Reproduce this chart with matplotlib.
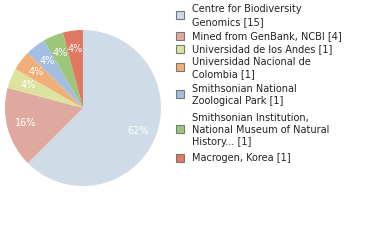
import matplotlib.pyplot as plt
from matplotlib.patches import Rectangle

labels = ['Centre for Biodiversity\nGenomics', 'Mined from GenBank, NCBI', 'Universidad de los Andes',
          'Universidad Nacional de\nColombia', 'Smithsonian National\nZoological Park',
          'Smithsonian Institution,\nNational Museum of Natural\nHistory...', 'Macrogen, Korea']
counts = [15, 4, 1, 1, 1, 1, 1]
colors = ['#cfdbe6', '#e0a9a0', '#dde39f', '#f0ae78', '#a3bee0', '#9dc67b', '#e07962']

W, H = 380, 240
fig = plt.figure(figsize=(W / 100, H / 100), dpi=100)

# pie: centre (83,108) px, radius 78 px
cx, cy, r = 83, 108, 78
ax = fig.add_axes([(cx - r) / W, (H - cy - r) / H, 2 * r / W, 2 * r / H])
wedges, texts, autotexts = ax.pie(counts, colors=colors, startangle=90, counterclock=False,
                                  autopct='%d%%', pctdistance=0.76,
                                  wedgeprops=dict(linewidth=0),
                                  textprops=dict(color='white', fontsize=7))
ax.set_xlim(-1, 1)
ax.set_ylim(-1, 1)
ax.axis('off')

# legend drawn by hand (pixel centres of each text block)
block_y = [15.5, 36, 49, 68, 95, 130, 158]
for lab, n, c, y in zip(labels, counts, colors, block_y):
    by = y - 1 if '\n' in lab else y
    fig.patches.append(Rectangle(((176) / W, (H - by - 4) / H), 8 / W, 8 / H,
                                 facecolor=c, edgecolor='#777777', linewidth=0.8,
                                 transform=fig.transFigure))
    fig.text(192 / W, (H - y) / H, f'{lab} [{n}]', fontsize=7, va='center', ha='left',
             linespacing=1.3, color='#222222')

fig.savefig('out.png', dpi=100)
